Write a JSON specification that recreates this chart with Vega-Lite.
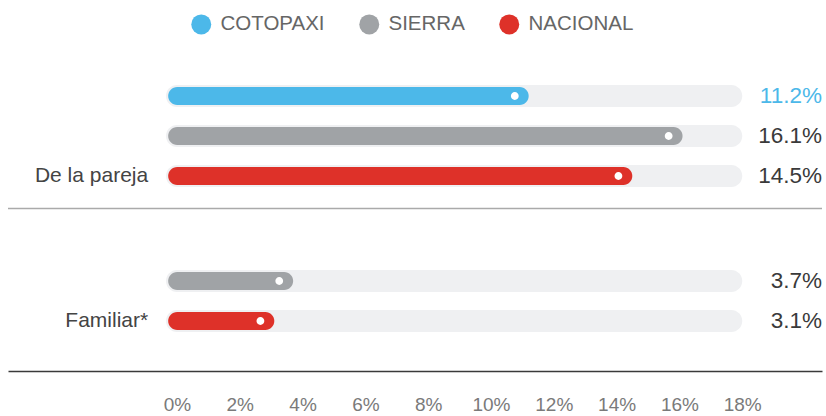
{
  "$schema": "https://vega.github.io/schema/vega-lite/v6.json",
  "width": 814,
  "height": 325,
  "autosize": {"type": "none"},
  "padding": {"left": 8, "top": 46, "right": 4, "bottom": 45},
  "background": "white",
  "config": {"view": {"stroke": null}, "font": "Liberation Sans"},
  "data": {
    "values": [
      {"grupo": "De la pareja", "serie": "COTOPAXI", "valor": 11.2, "etiqueta": "11.2%"},
      {"grupo": "De la pareja", "serie": "SIERRA", "valor": 16.1, "etiqueta": "16.1%"},
      {"grupo": "De la pareja", "serie": "NACIONAL", "valor": 14.5, "etiqueta": "14.5%"},
      {"grupo": "Familiar*", "serie": "SIERRA", "valor": 3.7, "etiqueta": "3.7%"},
      {"grupo": "Familiar*", "serie": "NACIONAL", "valor": 3.1, "etiqueta": "3.1%"}
    ]
  },
  "encoding": {
    "y": {"field": "grupo", "type": "nominal", "axis": null,
      "scale": {"domain": ["De la pareja", "Familiar*"], "paddingInner": 0, "paddingOuter": 0.1207}},
    "yOffset": {"field": "serie", "type": "nominal",
      "scale": {"domain": ["COTOPAXI", "SIERRA", "NACIONAL"], "paddingInner": 0, "paddingOuter": 0.3125}}
  },
  "layer": [
    {
      "mark": {"type": "bar", "height": 22, "cornerRadius": 11, "color": "#eff0f2"},
      "encoding": {
        "x": {"datum": -0.35, "type": "quantitative",
          "scale": {"domain": [-5.38, 20.54], "nice": false, "zero": false},
          "axis": {"values": [0, 2, 4, 6, 8, 10, 12, 14, 16, 18], "labelExpr": "datum.value + '%'",
            "title": null, "ticks": false, "grid": false, "domainColor": "#3a3a3a", "domainWidth": 1.5,
            "labelPadding": 24, "labelFontSize": 19, "labelColor": "#7a7a7a", "labelFont": "Liberation Sans"}},
        "x2": {"datum": 18}
      }
    },
    {
      "mark": {"type": "bar", "height": 18, "cornerRadius": 9},
      "encoding": {
        "x": {"field": "valor", "type": "quantitative"},
        "x2": {"datum": -0.28},
        "color": {"field": "serie", "type": "nominal",
          "scale": {"domain": ["COTOPAXI", "SIERRA", "NACIONAL"], "range": ["#4cb8e9", "#a0a3a6", "#de3129"]},
          "legend": {"orient": "none", "legendX": 183, "legendY": -32, "direction": "horizontal", "title": null,
            "symbolType": "circle", "symbolSize": 400, "symbolStrokeWidth": 0, "symbolOpacity": 1,
            "labelFontSize": 20.5, "labelColor": "#666666", "labelFont": "Liberation Sans", "columnPadding": 34, "labelOffset": 9}}
      }
    },
    {
      "mark": {"type": "point", "shape": "M -17.8 0 A 3.9 3.9 0 1 1 -10 0 A 3.9 3.9 0 1 1 -17.8 0 Z",
        "size": 4, "filled": true, "fill": "white", "opacity": 1, "strokeWidth": 0},
      "encoding": {"x": {"field": "valor", "type": "quantitative"}}
    },
    {
      "mark": {"type": "text", "align": "right", "baseline": "middle", "fontSize": 22.5, "font": "Liberation Sans"},
      "encoding": {
        "x": {"datum": 20.54, "type": "quantitative"},
        "text": {"field": "etiqueta"},
        "color": {"condition": {"test": "datum.serie === 'COTOPAXI'", "value": "#4cb8e9"}, "value": "#3a3a3a"}
      }
    },
    {
      "transform": [{"filter": "datum.serie === 'NACIONAL'"}],
      "mark": {"type": "text", "align": "right", "baseline": "middle", "dx": -20, "fontSize": 21, "color": "#444444", "font": "Liberation Sans"},
      "encoding": {
        "x": {"datum": -0.28, "type": "quantitative"},
        "text": {"field": "grupo"}
      }
    },
    {
      "data": {"values": [{}]},
      "mark": {"type": "rule", "color": "#aaaaaa", "strokeWidth": 1.5},
      "encoding": {
        "y": {"datum": "Familiar*", "type": "nominal", "bandPosition": 0},
        "yOffset": null
      }
    }
  ]
}
